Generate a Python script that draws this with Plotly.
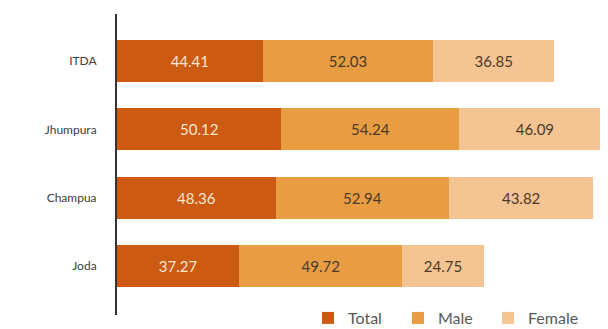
import plotly.graph_objects as go

categories = ["Joda", "Champua", "Jhumpura", "ITDA"]
total = [37.27, 48.36, 50.12, 44.41]
male = [49.72, 52.94, 54.24, 52.03]
female = [24.75, 43.82, 46.09, 36.85]

series = [
    ("Total", total, "#CC5A12", "#FBE6CF"),
    ("Male", male, "#E89D43", "#4A3A2A"),
    ("Female", female, "#F4C493", "#4A3A2A"),
]

fig = go.Figure()
for name, vals, color, tcolor in series:
    fig.add_trace(go.Bar(
        name=name, y=categories, x=vals, orientation="h",
        marker=dict(color=color, line=dict(width=0)),
        text=[f"{v:.2f}" for v in vals], textposition="inside",
        insidetextanchor="middle", textangle=0,
        textfont=dict(family="Lato", size=15, color=tcolor),
        cliponaxis=True,
    ))

# page body has an 8px default margin, so the figure is 600x321 and offsets are shifted
fig.update_layout(
    barmode="stack", bargap=0.385,
    width=600, height=321,
    margin=dict(l=109, r=0, t=6, b=14, autoexpand=False),
    plot_bgcolor="white", paper_bgcolor="white",
    font=dict(family="Lato", color="#404040"),
    uniformtext=dict(mode=False),
    xaxis=dict(range=[0, 149.7], showgrid=False, zeroline=False,
               showticklabels=False, ticks="", automargin=False),
    yaxis=dict(range=[-0.72, 3.69], showgrid=False, zeroline=False,
               showline=True, linecolor="#333333", linewidth=2,
               ticks="", ticklabelstandoff=16, automargin=False,
               tickfont=dict(family="Lato", size=12, color="#404040")),
    legend=dict(orientation="h", x=0.389, xanchor="left", y=-0.01,
                yanchor="middle", font=dict(family="Lato", size=16, color="#595959"),
                entrywidth=45, entrywidthmode="pixels",
                bgcolor="rgba(0,0,0,0)", traceorder="normal"),
    showlegend=True,
)

fig.write_html("out.html")
